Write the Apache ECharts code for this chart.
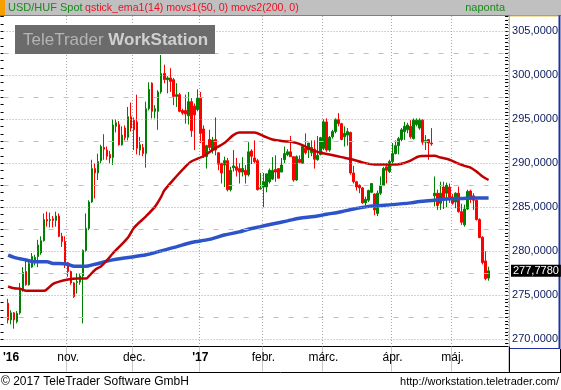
<!DOCTYPE html>
<html><head><meta charset="utf-8">
<script src="https://cdn.jsdelivr.net/npm/echarts@6/dist/echarts.min.js"></script>
<style>html,body{margin:0;padding:0;background:#fff}#c{width:561px;height:390px}</style>
</head><body><div id="c"></div>
<script>
// [open, high, low, close] per trading day, 2016-10-04 .. 2017-05-17
const candles = [
[274.1,274.6,271.8,272.2],[272.2,273.3,271.7,273.0],[273.0,273.1,271.2,272.2],[272.0,273.2,271.8,272.95],
[273.0,276.4,272.8,275.6],[275.6,278.2,275.4,277.6],[277.7,279.1,276.1,276.2],[276.2,279.0,276.1,278.6],
[278.2,279.8,278.1,279.4],[278.8,279.6,278.4,279.3],[279.4,281.3,278.2,280.7],[279.8,281.7,279.6,281.2],
[281.2,284.3,281.1,283.6],[283.6,284.5,282.8,283.45],[283.5,284.4,282.7,283.6],[283.7,284.0,282.7,283.5],
[283.5,284.5,282.8,284.0],[284.0,284.3,281.6,281.7],[281.7,282.1,280.5,281.1],[281.1,281.7,278.1,278.6],
[278.7,278.8,277.1,277.7],[277.7,277.8,276.2,276.4],[276.4,276.5,274.7,274.85],[276.45,277.5,275.2,276.55],
[276.5,277.5,276.2,277.2],[277.2,280.2,271.8,280.1],[280.1,284.3,279.9,282.6],[282.6,285.8,282.4,285.6],
[285.6,290.4,285.5,289.4],[289.4,290.0,286.0,288.9],[288.9,291.1,288.1,290.2],[290.3,292.1,290.0,291.9],
[291.8,293.3,290.4,291.6],[291.5,291.9,290.4,290.8],[291.0,291.4,290.0,290.6],[290.65,295.0,289.8,294.35],
[294.2,295.0,293.5,294.6],[294.4,294.8,292.0,292.1],[292.1,294.2,292.0,293.2],[294.0,294.3,292.6,292.9],
[292.95,296.4,292.6,295.3],[295.3,296.9,293.6,294.0],[294.9,295.2,291.5,293.8],[294.7,297.8,291.0,291.7],
[291.5,293.0,290.9,292.1],[291.8,292.2,290.8,291.1],[291.1,297.0,289.5,296.2],[296.2,299.2,296.0,298.4],
[299.1,299.2,295.1,295.9],[295.9,296.6,295.1,296.2],[295.9,298.3,293.8,298.1],[298.1,302.3,297.9,300.2],
[300.2,301.2,299.1,299.5],[299.5,299.9,297.95,299.7],[299.7,300.8,298.1,299.3],[299.5,299.7,296.6,297.6],
[297.6,299.1,296.4,297.8],[297.8,298.0,295.8,295.9],[296.0,296.2,295.5,295.7],[296.0,297.8,294.5,295.6],
[295.4,298.1,294.4,297.0],[297.0,297.4,293.0,293.7],[296.5,296.8,291.5,295.5],[296.1,298.4,295.9,297.4],
[297.4,298.1,292.3,293.4],[293.9,294.3,290.6,290.9],[290.75,292.1,289.4,292.0],[292.7,293.8,291.5,291.8],
[291.5,293.0,291.1,292.65],[292.7,295.2,290.9,291.5],[291.2,291.2,289.2,289.9],[290.0,290.0,287.7,288.9],
[289.8,290.75,287.3,290.3],[290.3,290.6,286.8,287.0],[287.0,289.6,286.8,289.2],[289.5,291.5,289.05,289.7],
[289.6,290.6,288.5,289.2],[289.4,290.0,287.7,289.0],[289.0,290.7,288.5,289.4],[289.2,289.8,287.7,288.7],
[288.7,292.4,288.5,291.3],[291.4,291.6,289.9,290.8],[290.6,292.6,290.0,290.2],[290.3,290.5,286.9,287.0],
[287.1,288.9,287.0,287.2],[287.3,288.9,285.0,287.9],[287.3,288.8,286.7,288.8],[287.9,289.4,287.7,289.2],
[288.2,290.7,288.1,289.2],[289.3,290.9,287.9,289.0],[289.4,289.4,288.3,288.3],[289.0,290.6,289.0,289.8],
[290.4,291.9,290.0,291.1],[291.0,291.6,290.8,291.3],[291.3,293.1,290.75,290.75],[290.75,290.8,287.9,288.1],
[288.1,290.9,288.0,290.75],[290.45,290.9,290.0,290.1],[290.0,292.0,290.0,291.9],[291.7,293.4,291.0,291.2],
[291.5,292.3,290.6,292.3],[291.2,292.6,290.8,291.8],[291.6,292.6,289.4,290.45],[290.4,293.1,290.3,290.9],
[291.0,293.0,290.9,292.9],[291.7,295.0,291.5,294.7],[294.7,295.1,291.3,291.5],[291.5,293.1,291.3,292.95],
[293.0,293.8,292.8,293.6],[293.6,295.1,293.4,295.0],[295.0,295.7,294.2,294.5],[294.5,294.6,292.6,292.7],
[293.0,294.2,291.9,293.4],[293.2,294.0,292.0,293.6],[293.5,293.6,288.7,288.9],[288.9,289.7,287.7,287.9],
[287.9,288.0,286.9,287.3],[287.5,287.6,286.6,287.2],[287.2,287.3,285.4,285.5],[285.5,286.2,285.2,285.9],
[285.8,287.0,285.6,286.9],[286.7,287.7,286.6,287.7],[286.5,286.6,284.1,284.7],[284.3,286.9,284.0,286.6],
[286.6,288.5,286.4,287.5],[287.5,289.6,287.4,289.4],[289.6,289.8,287.7,289.2],[289.05,290.4,288.9,290.2],
[290.2,292.3,290.0,291.1],[291.1,292.6,291.0,292.0],[292.0,293.0,291.0,292.8],[292.7,294.0,292.5,293.8],
[293.6,294.7,292.65,294.2],[293.8,294.6,293.4,294.35],[294.2,294.9,292.8,293.0],[292.8,295.1,292.7,294.9],
[294.4,295.1,294.2,294.9],[294.0,295.1,293.8,294.9],[294.9,295.0,292.1,292.4],[292.4,293.2,291.5,292.6],
[292.7,292.7,290.4,292.3],[292.3,294.0,292.0,292.2],[286.3,288.5,285.1,286.6],[286.6,287.0,284.7,285.2],
[285.45,287.9,284.7,286.6],[287.3,287.9,284.8,286.0],[286.6,287.8,285.0,287.5],[287.3,287.7,285.5,286.1],
[286.1,286.5,285.3,285.45],[285.6,286.7,284.9,286.6],[286.6,287.35,284.4,284.5],[284.5,285.4,283.0,283.3],
[283.0,285.3,282.8,284.8],[284.8,287.0,284.7,286.8],[286.85,287.0,285.5,285.9],[286.3,286.6,284.7,285.8],
[285.8,285.9,283.5,283.6],[283.6,283.75,281.5,281.55],[281.6,281.7,278.5,278.7],[278.9,280.0,276.7,276.9],
[276.95,278.25,276.65,277.778]
];
// moving averages read at selected trading-day indexes: [dayIndex, value]
const movs50 = [[0,276.0],[2,275.8],[4,275.75],[6,275.5],[12,275.5],[13,275.7],[15,276.3],[17,276.55],[20,276.8],
[23,276.9],[26,276.9],[27,277.2],[29,277.9],[31,278.3],[33,279.0],[35,279.8],[37,280.5],[40,281.6],[42,282.7],
[46,284.0],[49,285.1],[51,286.2],[52,286.9],[56,288.5],[59,289.6],[61,290.2],[65,290.8],[68,291.5],[72,292.3],
[75,293.2],[77,293.5],[82,293.5],[85,293.1],[88,292.7],[92,292.5],[95,292.4],[97,292.2],[99,291.9],[103,291.3],
[107,291.0],[111,290.7],[115,290.4],[118,290.1],[122,289.85],[128,289.85],[131,289.95],[134,290.3],[137,290.8],
[142,290.85],[144,290.65],[147,290.4],[150,289.95],[152,289.7],[154,289.5],[156,289.05],[158,288.5],[160,288.1]];
const movs200 = [[0,279.55],[2,279.3],[4,279.15],[6,279.0],[9,278.8],[13,278.8],[15,278.6],[17,278.6],[20,278.5],
[22,278.3],[26,278.3],[28,278.45],[31,278.7],[33,278.9],[36,279.1],[40,279.3],[46,279.6],[51,280.05],[56,280.5],
[61,281.0],[67,281.35],[72,281.85],[77,282.2],[80,282.5],[84,282.8],[88,283.1],[93,283.45],[97,283.75],[102,283.95],
[106,284.2],[111,284.5],[115,284.8],[120,285.1],[124,285.2],[128,285.3],[134,285.5],[137,285.65],[142,285.8],
[146,285.95],[151,286.0],[155,286.06],[160,286.06]];
const lastPrice = 277.778;
const lastPriceText = '277,7780';
const labelDays = [1,20,42,64,85,105,128,148];
const monthLabels = ["'16","nov.","dec.","'17","febr.","márc.","ápr.","máj."];
const yearLabels = ["'16","'17"];
const monthStartDays = [20,42,64,85,105,128,148];
const majorGrid = [270,275,280,285,290,295,300,305];
const minorGrid = [272.5,277.5,282.5,287.5,292.5,297.5,302.5];

const LEAD = 1, TRAIL = 6;
const N = LEAD + candles.length + TRAIL;
const categories = Array.from({length: N}, (_, k) => 'd' + k);
const kData = categories.map((_, k) => {
  const c = candles[k - LEAD];
  return c ? [c[0], c[3], c[2], c[1]] : '-';
});
const labelMap = new Map(labelDays.map((d, j) => [d + LEAD, monthLabels[j]]));
const gridSet = new Set(monthStartDays.map(d => d + LEAD));

const FONT = 'Liberation Sans, Arial, sans-serif';
const PX = 8.8;                    // px per HUF (layout)
const yMin = 323 * 5 / 6;          // 269.1667
const yInt = 5 / 6;
const gridTop = 16, gridH = 330.6;
const yMax = yMin + gridH / PX;

const staticGraphic = [
  {type: 'rect', shape: {x: 0, y: 0, width: 561, height: 15}, style: {fill: '#c0c0c0'}, z: 100},
  {type: 'line', shape: {x1: 0, y1: 15.5, x2: 561, y2: 15.5}, style: {stroke: '#808080', lineWidth: 1}, z: 100},
  {type: 'rect', shape: {x: 0, y: 0, width: 5, height: 15}, style: {fill: '#f5a000'}, z: 101},
  {type: 'text', x: 8, y: 8, style: {text: 'USD/HUF Spot', fill: '#1a8a1a', font: '11px ' + FONT, textVerticalAlign: 'middle'}, z: 101},
  {type: 'text', x: 85, y: 8, style: {text: 'qstick_ema1(14) movs1(50, 0) movs2(200, 0)', fill: '#ee1122', font: '10.6px ' + FONT, textVerticalAlign: 'middle'}, z: 101},
  {type: 'text', x: 505, y: 8, style: {text: 'naponta', fill: '#1a8a1a', font: '11px ' + FONT, textAlign: 'right', textVerticalAlign: 'middle'}, z: 101},
  {type: 'rect', shape: {x: 15, y: 25, width: 200, height: 29}, style: {fill: '#6b6b6b'}, z: 90},
  {type: 'text', x: 23, y: 40, z: 91, style: {
    text: '{a|TeleTrader }{b|WorkStation}', textVerticalAlign: 'middle',
    rich: {a: {fontSize: 17, fontFamily: FONT, fill: '#b4b4b4', color: '#b4b4b4'},
           b: {fontSize: 17, fontFamily: FONT, fontWeight: 'bold', fill: '#d0d0d0', color: '#d0d0d0'}}}},
  // right value panel frame
  {type: 'line', shape: {x1: 509.5, y1: 16, x2: 558, y2: 16}, style: {stroke: '#e8c040', lineWidth: 1}, z: 100},
  {type: 'line', shape: {x1: 509.5, y1: 16, x2: 509.5, y2: 348.5}, style: {stroke: '#e8c040', lineWidth: 1}, z: 100},
  {type: 'line', shape: {x1: 559.5, y1: 15.5, x2: 559.5, y2: 349}, style: {stroke: '#2030a0', lineWidth: 2}, z: 100},
  {type: 'line', shape: {x1: 509.5, y1: 348.5, x2: 560, y2: 348.5}, style: {stroke: '#2030a0', lineWidth: 1}, z: 100},
  // x label band frame
  {type: 'line', shape: {x1: 0, y1: 346.5, x2: 4, y2: 346.5}, style: {stroke: '#000', lineWidth: 1}, z: 100},
  {type: 'line', shape: {x1: 0, y1: 372.5, x2: 561, y2: 372.5}, style: {stroke: '#000', lineWidth: 1}, z: 100},
  {type: 'line', shape: {x1: 509.5, y1: 346.5, x2: 509.5, y2: 372.5}, style: {stroke: '#000', lineWidth: 1}, z: 100},
  {type: 'line', shape: {x1: 560.5, y1: 349, x2: 560.5, y2: 372.5}, style: {stroke: '#000', lineWidth: 1}, z: 100},
  // footer
  {type: 'text', x: 1, y: 382, style: {text: '© 2017 TeleTrader Software GmbH', fill: '#000', font: '12px ' + FONT, textVerticalAlign: 'middle'}, z: 100},
  {type: 'text', x: 559, y: 382, style: {text: 'http://workstation.teletrader.com/', fill: '#000', font: '11px ' + FONT, textAlign: 'right', textVerticalAlign: 'middle'}, z: 100}
];

const chart = echarts.init(document.getElementById('c'), null, {renderer: 'canvas'});
chart.setOption({
  animation: false,
  backgroundColor: '#ffffff',
  grid: {left: 3, top: gridTop, width: 506, height: gridH},
  xAxis: {
    type: 'category', data: categories, boundaryGap: true,
    axisLine: {show: true, lineStyle: {color: '#000', width: 1}},
    axisTick: {show: true, interval: (i) => gridSet.has(i), length: 25, lineStyle: {color: '#c8c8c8'}},
    axisLabel: {
      interval: (i) => labelMap.has(i), margin: 5, fontSize: 12, fontFamily: FONT, color: '#000',
      formatter: (v, i) => {
        const t = labelMap.get(i) || '';
        return yearLabels.includes(t) ? '{y|' + t + '}' : t;
      },
      rich: {y: {fontWeight: 'bold', fontSize: 12, fontFamily: FONT, color: '#000'}}
    },
    splitLine: {show: true, interval: (i) => gridSet.has(i), lineStyle: {color: '#a8a8a8', type: [1, 2]}}
  },
  yAxis: [{
    type: 'value', position: 'right', min: yMin, max: yMax, interval: yInt,
    axisLine: {show: false},
    axisTick: {show: true, inside: true, length: 3, lineStyle: {color: '#000'}},
    minorTick: {show: true, splitNumber: 2, length: 3, lineStyle: {color: '#000'}},
    splitLine: {show: false},
    axisLabel: {
      margin: 4, fontSize: 11, fontFamily: FONT, color: '#0b1a5a',
      formatter: (v) => {
        const r = Math.round(v * 1000) / 1000;
        return Math.abs(r / 5 - Math.round(r / 5)) < 1e-6 ? r.toFixed(4).replace('.', ',') : '';
      }
    }
  }, {
    type: 'value', position: 'left', min: yMin, max: yMax, interval: yInt,
    axisLine: {show: false},
    axisTick: {show: true, length: 3, lineStyle: {color: '#000'}},
    axisLabel: {show: false}, splitLine: {show: false}
  }],
  series: [{
    type: 'line', data: [], z: 1, silent: true,
    markLine: {
      silent: true, symbol: ['none', 'none'], label: {show: false}, animation: false,
      data: majorGrid.map(v => ({yAxis: v, lineStyle: {color: '#a8a8a8', type: [1, 2], width: 1}}))
        .concat(minorGrid.map(v => ({yAxis: v, lineStyle: {color: '#c0c0c0', type: [5, 10], width: 1}})))
    }
  }, {
    type: 'candlestick', data: kData, z: 2, barWidth: 2,
    itemStyle: {color: '#008000', color0: '#ff0000', borderColor: '#008000', borderColor0: '#ff0000', borderWidth: 1}
  }, {
    type: 'line', data: movs200.map(p => [p[0] + LEAD, p[1]]), z: 3, smooth: 0.3,
    showSymbol: false, lineStyle: {color: '#2c54c8', width: 3.5}
  }, {
    type: 'line', data: movs50.map(p => [p[0] + LEAD, p[1]]), z: 4, smooth: 0.3,
    showSymbol: false, lineStyle: {color: '#c00000', width: 2.5}
  }],
  graphic: staticGraphic
});

// last-price tag on the value panel, positioned through the value axis scale
const lastY = chart.convertToPixel({yAxisIndex: 0}, lastPrice);
chart.setOption({
  graphic: staticGraphic.concat([{
    type: 'text', x: 511, y: lastY, z: 120,
    style: {text: lastPriceText, fill: '#ffffff', font: '11px ' + FONT, textVerticalAlign: 'middle',
      backgroundColor: '#000000', padding: [1, 2, 0, 2]}
  }])
});
</script></body></html>
